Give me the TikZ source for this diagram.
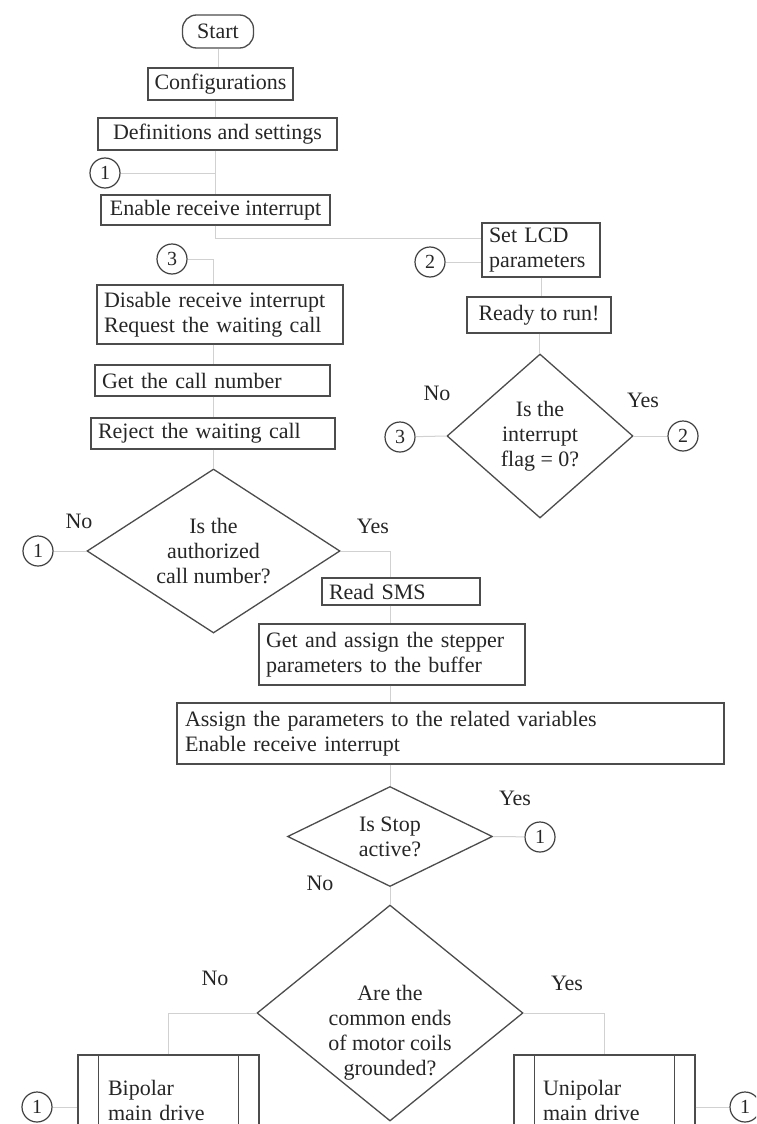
\documentclass[tikz,border=0pt]{standalone}
\usepackage{fontspec}
\setmainfont{Liberation Serif}
\usetikzlibrary{shapes.geometric,calc}
\begin{document}
\begin{tikzpicture}[x=1pt,y=-1pt,
  every node/.style={font=\fontsize{22}{25}\selectfont, text=black!85},
  box/.style={draw=black!70, line width=1.3pt, inner sep=0pt},
  dia/.style={draw=black!70, line width=1.3pt, diamond, inner sep=0pt},
  conn/.style={draw=black!18, line width=1pt},
  con/.style={draw=black!75, line width=1.2pt, circle, minimum size=30pt, inner sep=0pt, font=\fontsize{20}{22}\selectfont},
  lab/.style={align=center}]
\useasboundingbox (0,0) rectangle (756,1124);
\clip (0,0) rectangle (756,1124);
\fill[white] (0,0) rectangle (756,1124);

% left column
\node[box, rounded corners=14pt, minimum width=71, minimum height=33] (start) at (218,31.5) {Start};
\node[box, minimum width=145, minimum height=32] (conf) at (220.5,84) {Configurations};
\node[box, minimum width=239, minimum height=32] (defs) at (217.5,134) {Definitions and settings};
\node[con] (c1a) at (105,173) {1};
\node[box, minimum width=229, minimum height=30] (enable) at (215.5,210) {Enable receive interrupt};
\node[con] (c3a) at (172,259) {3};
\node[box, minimum height=59, inner xsep=7pt, text width=232, align=left] (disable) at (220,314.5) {Disable receive interrupt\\Request the waiting call};
\node[box, minimum height=31, inner xsep=7pt, text width=221, align=left] (getcall) at (212.5,380.5) {Get the call number};
\node[box, minimum height=31, inner xsep=7pt, text width=230, align=left] (reject) at (213,433.5) {Reject the waiting call};

\node[dia, minimum width=253, minimum height=164] (auth) at (213.5,551) {};
\node[lab] at (213.5,551) {Is the\\authorized\\call number?};
\node[con] (c1b) at (38,551) {1};
\node (noA) at (79,521) {No};
\node (yesA) at (373,526) {Yes};

% right column
\node[box, minimum height=54, inner xsep=7pt, text width=104, align=left] (lcd) at (541,250) {Set LCD\\parameters};
\node[con] (c2a) at (430,262) {2};
\node[box, minimum width=144, minimum height=36] (ready) at (539,315) {Ready to run!};
\node[dia, minimum width=186, minimum height=164] (flag) at (540,436) {};
\node[lab] at (540,436) {Is the\\interrupt\\flag = 0?};
\node[con] (c3b) at (400,437) {3};
\node[con] (c2b) at (683,436) {2};
\node (noF) at (437,393) {No};
\node (yesF) at (643,400) {Yes};

% middle
\node[box, minimum height=27, inner xsep=7pt, text width=144, align=left] (sms) at (401,591.5) {Read SMS};
\node[box, minimum height=61, inner xsep=7pt, text width=252, align=left] (getassign) at (392,654.5) {Get and assign the stepper\\parameters to the buffer};
\node[box, minimum height=61, inner xsep=8pt, text width=531, align=left] (assign) at (450.5,733.5) {Assign the parameters to the related variables\\Enable receive interrupt};

\node[dia, minimum width=205, minimum height=100] (stop) at (390,836.5) {};
\node[lab] at (390,837) {Is Stop\\active?};
\node[con] (c1c) at (540,837) {1};
\node (yesS) at (515,798) {Yes};
\node (noS) at (320,883) {No};

\node[dia, minimum width=266, minimum height=216] (big) at (390,1013) {};
\node[lab] at (390,1033) {Are the\\common ends\\of motor coils\\grounded?};
\node (noB) at (215,978) {No};
\node (yesB) at (567,983) {Yes};

\node[box, minimum height=90, inner xsep=30pt, text width=121, align=left] (bip) at (168.5,1100) {Bipolar\\main drive};
\node[box, minimum height=90, inner xsep=29pt, text width=123, align=left] (uni) at (604.5,1100) {Unipolar\\main drive};
\coordinate (bipbot) at (168.5,1140);
\coordinate (unibot) at (604.5,1140);
\draw[box] ($(bip.north west)+(21,0)$) -- ($(bip.north west |- bipbot)+(21,0)$);
\draw[box] ($(bip.north east)+(-21,0)$) -- ($(bip.north east |- bipbot)+(-21,0)$);
\draw[box] ($(uni.north west)+(21,0)$) -- ($(uni.north west |- unibot)+(21,0)$);
\draw[box] ($(uni.north east)+(-21,0)$) -- ($(uni.north east |- unibot)+(-21,0)$);
\node[con] (c1d) at (37,1107) {1};
\node[con] (c1e) at (745,1107) {1};

% connectors
\coordinate (spA) at (215,0);
\coordinate (spB) at (213,0);
\coordinate (spC) at (390,0);
\draw[conn] (start.south) -- (start.south |- conf.north);
\draw[conn] (spA |- conf.south) -- (spA |- defs.north);
\draw[conn] (spA |- defs.south) -- (spA |- enable.north);
\draw[conn] (c1a) -- (spA |- c1a);
\draw[conn] (spA |- enable.south) |- ($(lcd.north west)!0.3!(lcd.south west)$);
\draw[conn] (c2a) -- (c2a -| lcd.west);
\draw[conn] (lcd.south) -- (lcd.south |- ready.north);
\draw[conn] (ready.south) -- (ready.south |- flag.north);
\draw[conn] (c3b) -- (flag.west);
\draw[conn] (flag.east) -- (c2b);
\draw[conn] (c3a) -| (spB |- disable.north);
\draw[conn] (spB |- disable.south) -- (spB |- getcall.north);
\draw[conn] (spB |- getcall.south) -- (spB |- reject.north);
\draw[conn] (spB |- reject.south) -- (spB |- auth.north);
\draw[conn] (auth.west) -- (c1b);
\draw[conn] (auth.east) -| (spC |- sms.north);
\draw[conn] (spC |- sms.south) -- (spC |- getassign.north);
\draw[conn] (spC |- getassign.south) -- (spC |- assign.north);
\draw[conn] (spC |- assign.south) -- (stop.north);
\draw[conn] (stop.east) -- (c1c);
\draw[conn] (stop.south) -- (big.north);
\draw[conn] (big.west) -| (bip.north);
\draw[conn] (big.east) -| (uni.north);
\draw[conn] (c1d) -- (c1d -| bip.west);
\draw[conn] (uni.east |- c1e) -- (c1e);
\end{tikzpicture}
\end{document}
